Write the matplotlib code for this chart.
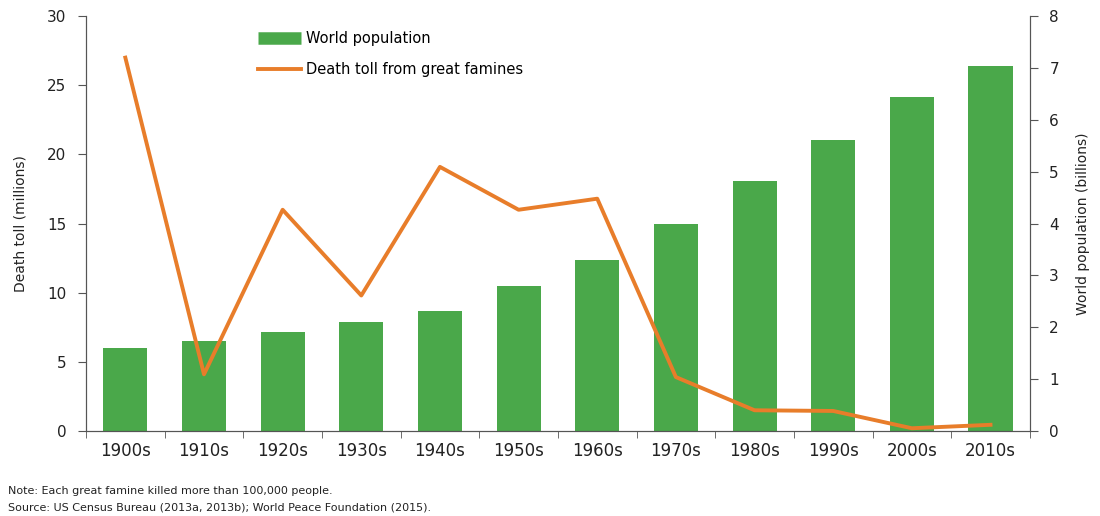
import numpy as np
import matplotlib.pyplot as plt
from matplotlib.lines import Line2D

decades = ["1900s", "1910s", "1920s", "1930s", "1940s", "1950s",
           "1960s", "1970s", "1980s", "1990s", "2000s", "2010s"]
population_bn = [1.6, 1.73, 1.91, 2.1, 2.31, 2.79, 3.29, 4.0, 4.82, 5.61, 6.44, 7.03]
famine_deaths_m = [27.0, 4.1, 16.0, 9.8, 19.1, 16.0, 16.8, 3.9, 1.5, 1.45, 0.2, 0.45]

GREEN = "#4aa84a"
ORANGE = "#e87d2a"
GREY = "#555555"

plt.rcParams["font.family"] = ["DejaVu Sans"]

fig = plt.figure(figsize=(11, 5.16), dpi=100)
ax = fig.add_axes([0.0782, 0.1647, 0.858, 0.804])
ax2 = ax.twinx()

x = np.arange(len(decades))

ax2.bar(x, population_bn, width=0.56, color=GREEN, zorder=2)
ax2.set_ylim(0, 8)
ax2.set_yticks(range(0, 9))

ax.plot(x, famine_deaths_m, color=ORANGE, linewidth=2.8, zorder=3)
ax.set_ylim(0, 30)
ax.set_yticks(range(0, 31, 5))
ax.set_xlim(-0.5, len(decades) - 0.5)

# line drawn above the bars
ax.set_zorder(ax2.get_zorder() + 1)
ax.patch.set_visible(False)

ax.set_xticks(x)
ax.set_xticklabels(decades)
ax.set_xticks(np.arange(-0.5, len(decades)), minor=True)
ax.tick_params(axis="x", which="major", length=0, pad=8)
ax.tick_params(axis="x", which="minor", length=5, color=GREY)

for a in (ax, ax2):
    a.tick_params(axis="y", length=6, color=GREY, labelsize=11, labelcolor="#222222")
    a.tick_params(axis="x", labelsize=12, labelcolor="#222222")
    a.spines["top"].set_visible(False)
    for side in ("left", "right", "bottom"):
        a.spines[side].set_color(GREY)

ax.tick_params(axis="y", pad=8)
ax2.tick_params(axis="y", pad=8)

ax.set_ylabel("Death toll (millions)", fontsize=10, color="#222222", labelpad=14)
ax2.set_ylabel("World population (billions)", fontsize=10, color="#222222", labelpad=12)

handles = [Line2D([0], [0], color=GREEN, linewidth=9, solid_capstyle="butt"),
           Line2D([0], [0], color=ORANGE, linewidth=2.8)]
ax.legend(handles, ["World population", "Death toll from great famines"],
          loc="upper left", bbox_to_anchor=(0.168, 0.995), frameon=False,
          fontsize=10.5, handlelength=3.0, handletextpad=0.3, labelspacing=1.1)

fig.text(0.007, 0.042, "Note: Each great famine killed more than 100,000 people.",
         fontsize=8, color="#222222")
fig.text(0.007, 0.011, "Source: US Census Bureau (2013a, 2013b); World Peace Foundation (2015).",
         fontsize=8, color="#222222")

fig.savefig("out.png", dpi=100)
